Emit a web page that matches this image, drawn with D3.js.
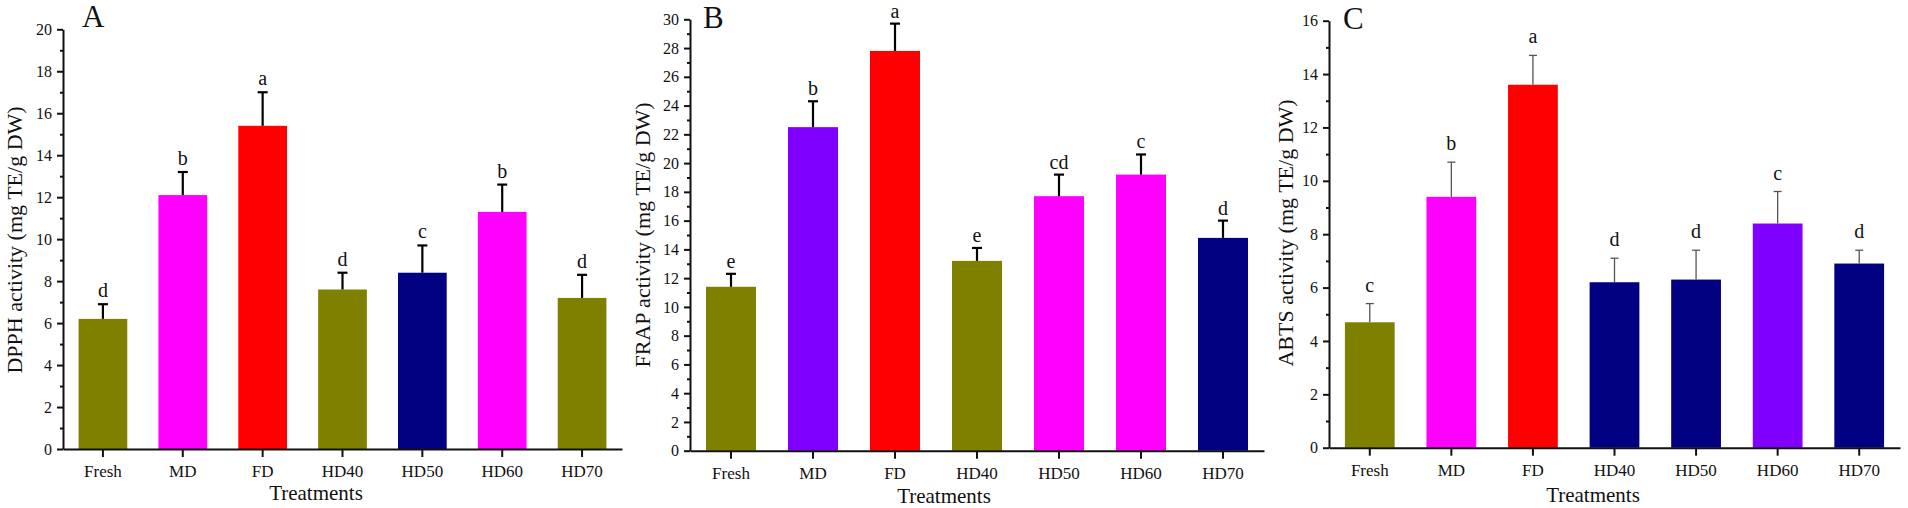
<!DOCTYPE html>
<html lang="en">
    <head>
        <meta charset="utf-8">
        <title>Antioxidant activity</title>
        <script src="https://cdn.jsdelivr.net/npm/d3@7"></script>
        <style>
            body { margin: 0; background: #fff; }
            text { font-family: "Liberation Serif", "Times New Roman", serif; fill: #111; }
        </style>
    </head>
    <body>
        <script type="text/javascript">
        var categories = ["Fresh", "MD", "FD", "HD40", "HD50", "HD60", "HD70"];

        var dpphMean = [6.2, 12.1, 15.4, 7.6, 8.4, 11.3, 7.2];
        var dpphErr = [0.7, 1.1, 1.6, 0.8, 1.3, 1.3, 1.1];
        var dpphLetters = ["d", "b", "a", "d", "c", "b", "d"];

        var frapMean = [11.4, 22.5, 27.8, 13.2, 17.7, 19.2, 14.8];
        var frapErr = [0.9, 1.8, 1.9, 0.9, 1.5, 1.4, 1.2];
        var frapLetters = ["e", "b", "a", "e", "cd", "c", "d"];

        var abtsMean = [4.7, 9.4, 13.6, 6.2, 6.3, 8.4, 6.9];
        var abtsErr = [0.7, 1.3, 1.1, 0.9, 1.1, 1.2, 0.5];
        var abtsLetters = ["c", "b", "a", "d", "d", "c", "d"];

        var olive = "#808000", magenta = "#ff00ff", red = "#ff0000",
            navy = "#000080", violet = "#8000ff";
        var dpphColors = [olive, magenta, red, olive, navy, magenta, olive];
        var frapColors = [olive, violet, red, olive, magenta, magenta, navy];
        var abtsColors = [olive, magenta, red, navy, navy, violet, navy];

        var w = 1908;
        var h = 508;

        var svg = d3.select("body")
                    .append("svg")
                    .attr("width", w)
                    .attr("height", h);

        var panels = [
            {tag: "A", mean: dpphMean, err: dpphErr, letters: dpphLetters, colors: dpphColors,
             max: 20, title: "DPPH activity (mg TE/g DW)",
             x0: 63, x1: 622, y0: 449, y1: 29.3, titleX: 14, titleY: 240,
             tagX: 82, tagY: 27, xlabX: 316, xlabY: 500, errColor: "#000", errW: 2.2, cap: 10, gap: 7},
            {tag: "B", mean: frapMean, err: frapErr, letters: frapLetters, colors: frapColors,
             max: 30, title: "FRAP activity (mg TE/g DW)",
             x0: 690, x1: 1264, y0: 450.7, y1: 19.3, titleX: 642, titleY: 235,
             tagX: 703, tagY: 28, xlabX: 944, xlabY: 503, errColor: "#000", errW: 2.2, cap: 10, gap: 6},
            {tag: "C", mean: abtsMean, err: abtsErr, letters: abtsLetters, colors: abtsColors,
             max: 16, title: "ABTS activity (mg TE/g DW)",
             x0: 1329, x1: 1900, y0: 447.7, y1: 20.7, titleX: 1285, titleY: 233,
             tagX: 1343, tagY: 29, xlabX: 1593, xlabY: 502, errColor: "#555", errW: 1.3, cap: 8, gap: 12}
        ];

        panels.forEach(function(p) {
            var x = d3.scaleBand()
                      .domain(categories)
                      .range([p.x0, p.x1])
                      .paddingInner(0.39)
                      .paddingOuter(0.195);
            var y = d3.scaleLinear()
                      .domain([0, p.max])
                      .range([p.y0, p.y1]);
            var g = svg.append("g");
            var rows = categories.map(function(c, i) {
                return {cat: c, v: p.mean[i], e: p.err[i], l: p.letters[i], col: p.colors[i]};
            });

            // bars
            g.selectAll("rect")
                .data(rows)
                .enter()
                .append("rect")
                .attr("x", function(d) { return x(d.cat); })
                .attr("y", function(d) { return y(d.v); })
                .attr("width", x.bandwidth())
                .attr("height", function(d) { return y(0) - y(d.v); })
                .attr("fill", function(d) { return d.col; });

            // error bars (upper half only)
            var eb = g.selectAll("g.err")
                .data(rows)
                .enter()
                .append("g")
                .attr("class", "err")
                .attr("stroke", p.errColor)
                .attr("stroke-width", p.errW);
            eb.append("line")
                .attr("x1", function(d) { return x(d.cat) + x.bandwidth() / 2; })
                .attr("x2", function(d) { return x(d.cat) + x.bandwidth() / 2; })
                .attr("y1", function(d) { return y(d.v); })
                .attr("y2", function(d) { return y(d.v + d.e); });
            eb.append("line")
                .attr("x1", function(d) { return x(d.cat) + x.bandwidth() / 2 - p.cap / 2; })
                .attr("x2", function(d) { return x(d.cat) + x.bandwidth() / 2 + p.cap / 2; })
                .attr("y1", function(d) { return y(d.v + d.e); })
                .attr("y2", function(d) { return y(d.v + d.e); });

            // significance letters
            g.selectAll("text.sig")
                .data(rows)
                .enter()
                .append("text")
                .attr("class", "sig")
                .text(function(d) { return d.l; })
                .attr("x", function(d) { return x(d.cat) + x.bandwidth() / 2; })
                .attr("y", function(d) { return y(d.v + d.e) - p.gap; })
                .attr("text-anchor", "middle")
                .attr("font-size", "20px");

            // axes
            var major = d3.range(0, p.max + 1, 2);
            var minor = d3.range(1, p.max, 2);
            var yAxis = g.append("g")
                .attr("transform", "translate(" + p.x0 + ",0)")
                .call(d3.axisLeft(y).tickValues(major).tickSize(6).tickSizeOuter(0).tickPadding(5));
            yAxis.selectAll("text").attr("font-size", "16px").attr("font-family", null);
            g.append("g")
                .attr("transform", "translate(" + p.x0 + ",0)")
                .call(d3.axisLeft(y).tickValues(minor).tickSize(3).tickFormat(""))
                .select(".domain").remove();

            var xAxis = g.append("g")
                .attr("transform", "translate(0," + p.y0 + ")")
                .call(d3.axisBottom(x).tickSize(8).tickSizeOuter(0).tickPadding(8));
            xAxis.selectAll("text").attr("font-size", "17px").attr("font-family", null);

            g.selectAll(".domain, .tick line")
                .attr("stroke", "#111")
                .attr("stroke-width", 2);
            g.selectAll(".tick text").attr("fill", "#111");

            // titles
            g.append("text")
                .text(p.title)
                .attr("transform", "translate(" + p.titleX + "," + p.titleY + ") rotate(-90)")
                .attr("text-anchor", "middle")
                .attr("dominant-baseline", "central")
                .attr("font-size", "22px");
            g.append("text")
                .text("Treatments")
                .attr("x", p.xlabX)
                .attr("y", p.xlabY)
                .attr("text-anchor", "middle")
                .attr("font-size", "21px");
            g.append("text")
                .text(p.tag)
                .attr("x", p.tagX)
                .attr("y", p.tagY)
                .attr("font-size", "31px");
        });
        </script>
    </body>
</html>
